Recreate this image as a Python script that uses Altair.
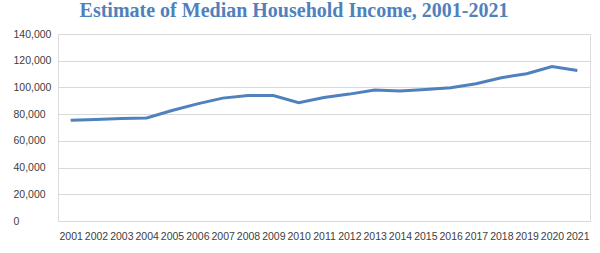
import altair as alt
import pandas as pd

title_text = "Estimate of Median Household Income, 2001-2021"
years = [str(y) for y in range(2001, 2022)]
income = [75500, 75900, 76700, 77200, 82700, 87700, 92000, 94000, 94000, 88600,
          92500, 95000, 98000, 97300, 98500, 99800, 102800, 107300, 110300, 115700, 112700]
y_ticks = [0, 20000, 40000, 60000, 80000, 100000, 120000, 140000]

df = pd.DataFrame({"year": years, "income": income})

line = alt.Chart(df).mark_line(color="#4F81BD", strokeWidth=3).encode(
    x=alt.X("year:O", sort=None, scale=alt.Scale(type="point", padding=0.5),
            axis=alt.Axis(title=None, labelAngle=0, ticks=False, domain=False,
                          labelFont="Liberation Sans", labelFontSize=10.5,
                          labelColor="#404040", labelPadding=10)),
    y=alt.Y("income:Q", scale=alt.Scale(domain=[0, 140000], nice=False),
            axis=alt.Axis(title=None, values=y_ticks, format=",d", ticks=False, tickSize=0,
                          domain=False, gridColor="#D9D9D9", gridWidth=1,
                          labelFont="Liberation Sans", labelFontSize=10.5,
                          labelColor="#404040", labelAlign="left", labelPadding=45)),
)

title = alt.Chart(pd.DataFrame({"t": [title_text]})).mark_text(
    font="Liberation Serif", fontSize=20, fontWeight="bold", color="#4F81BD",
    align="center", baseline="alphabetic"
).encode(text="t:N", x=alt.value(236), y=alt.value(-17))

chart = alt.layer(line, title).properties(
    width=532, height=187,
    autosize=alt.AutoSizeParams(type="none"),
    padding={"left": 58, "top": 34, "right": 10, "bottom": 32},
).configure_view(stroke=None).configure(background="white")

chart.save("out.html", embed_options={"renderer": "svg", "actions": False})
